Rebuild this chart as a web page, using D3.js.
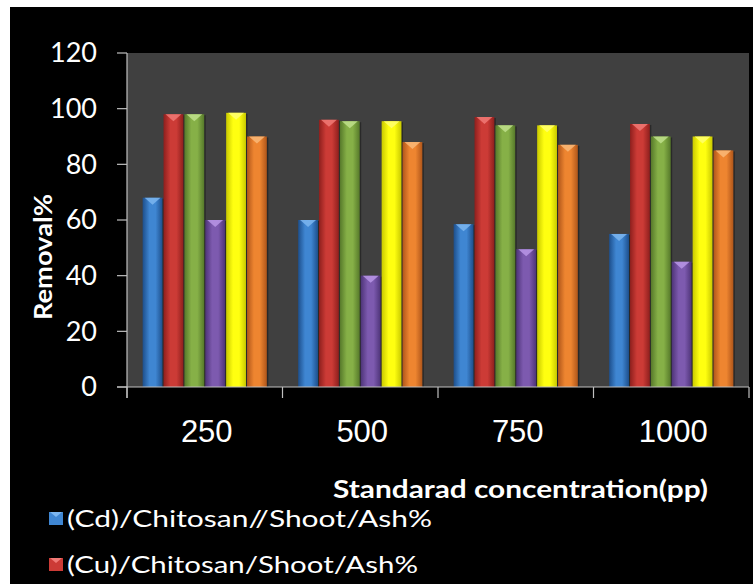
<!DOCTYPE html>
<html><head><meta charset="utf-8">
<script src="https://cdn.jsdelivr.net/npm/d3@7"></script>
<style>html,body{margin:0;padding:0;background:#fff;}svg{display:block;}</style>
</head><body>
<script>
const categories = ["250", "500", "750", "1000"];
const seriesNames = ["(Cd)/Chitosan//Shoot/Ash%", "(Cu)/Chitosan/Shoot/Ash%", "S3", "S4", "S5", "S6"];
const s1 = [68, 60, 58.5, 55];
const s2 = [98, 96, 97, 94.5];
const s3 = [98, 95.5, 94, 90];
const s4 = [60, 40, 49.5, 45];
const s5 = [98.5, 95.5, 94, 90];
const s6 = [90, 88, 87, 85];
const seriesValues = [s1, s2, s3, s4, s5, s6];
const yTicks = [0, 20, 40, 60, 80, 100, 120];
const legendShown = [0, 1];
const colors = [
  {dark:"#1d4f8c", mid:"#3f86d2", cap:"#7cb6f0"},
  {dark:"#8e1f1d", mid:"#cc3b36", cap:"#f07a76"},
  {dark:"#56792a", mid:"#86b047", cap:"#c0e08c"},
  {dark:"#4e3478", mid:"#7d5aaf", cap:"#b896e6"},
  {dark:"#c9c900", mid:"#ffff10", cap:"#ffff70"},
  {dark:"#b0561a", mid:"#ee8530", cap:"#f9b878"}
];

const W = 753, H = 584;
const svg = d3.select("body").append("svg").attr("width", W).attr("height", H);
svg.append("rect").attr("width", W).attr("height", H).attr("fill", "#fff");
svg.append("rect").attr("x", 10).attr("y", 7).attr("width", W - 10).attr("height", H - 7).attr("fill", "#000");

const plot = {left: 127, top: 53, right: 749, bottom: 387};
svg.append("rect").attr("x", plot.left).attr("y", plot.top)
  .attr("width", plot.right - plot.left).attr("height", plot.bottom - plot.top).attr("fill", "#404040");

const y = d3.scaleLinear().domain([0, 120]).range([plot.bottom, plot.top]);
const x0 = d3.scaleBand().domain(categories).range([plot.left, plot.right]).padding(0);
const x1 = d3.scaleBand().domain(d3.range(6)).range([0, x0.bandwidth()]).paddingInner(0.05).paddingOuter(0.75);

const defs = svg.append("defs");
colors.forEach((c, i) => {
  const g = defs.append("linearGradient").attr("id", "g" + i).attr("x1", 0).attr("x2", 1).attr("y1", 0).attr("y2", 0);
  g.append("stop").attr("offset", "0%").attr("stop-color", c.dark);
  g.append("stop").attr("offset", "35%").attr("stop-color", c.mid);
  g.append("stop").attr("offset", "65%").attr("stop-color", c.mid);
  g.append("stop").attr("offset", "100%").attr("stop-color", c.dark);
});

const groups = svg.append("g").selectAll("g").data(categories).join("g")
  .attr("transform", d => `translate(${x0(d)},0)`);
groups.each(function(cat, ci) {
  const g = d3.select(this);
  seriesValues.forEach((vals, si) => {
    const v = vals[ci];
    const bx = x1(si), bw = x1.bandwidth();
    const by = y(v);
    g.append("rect").attr("x", bx + 1.5).attr("y", by + 1).attr("width", bw).attr("height", plot.bottom - by)
      .attr("fill", "#000").attr("opacity", 0.35);
    g.append("rect").attr("x", bx).attr("y", by).attr("width", bw).attr("height", plot.bottom - by)
      .attr("fill", `url(#g${si})`);
    g.append("path")
      .attr("d", `M${bx + 2},${by}L${bx + bw - 2},${by}L${bx + bw / 2},${by + 7}Z`)
      .attr("fill", colors[si].cap).attr("opacity", 0.85);
  });
});

const axisColor = "#bfbfbf";
const ax = svg.append("g").attr("stroke", axisColor).attr("stroke-width", 1.2);
ax.append("line").attr("x1", plot.left).attr("x2", plot.left).attr("y1", plot.top).attr("y2", plot.bottom + 11);
ax.append("line").attr("x1", plot.left - 10).attr("x2", plot.right).attr("y1", plot.bottom).attr("y2", plot.bottom);
ax.selectAll(".yt").data(yTicks).join("line")
  .attr("x1", plot.left - 10).attr("x2", plot.left).attr("y1", d => y(d)).attr("y2", d => y(d));
const bounds = categories.map(c => x0(c)).concat([plot.right]);
ax.selectAll(".xt").data(bounds).join("line")
  .attr("x1", d => d).attr("x2", d => d).attr("y1", plot.bottom).attr("y2", plot.bottom + 11);

svg.append("g").selectAll("text").data(yTicks).join("text")
  .attr("x", 97).attr("y", d => y(d)).attr("dy", "0.35em").attr("text-anchor", "end")
  .attr("font-family", "Lato, 'Open Sans', sans-serif").attr("font-size", 27).attr("fill", "#fff")
  .text(d => d);

svg.append("g").selectAll("text").data(categories).join("text")
  .attr("x", d => x0(d) + x0.bandwidth() / 2 + 2).attr("y", 442).attr("text-anchor", "middle")
  .attr("font-family", "'Liberation Sans', Arial, sans-serif").attr("font-size", 31).attr("fill", "#fff")
  .text(d => d);

svg.append("text").attr("x", 333).attr("y", 498)
  .attr("font-family", "Lato, sans-serif").attr("font-weight", "bold").attr("font-size", 25).attr("fill", "#fff")
  .attr("textLength", 375).attr("lengthAdjust", "spacingAndGlyphs")
  .text("Standarad concentration(pp)");
svg.append("text").attr("transform", "translate(52,257) rotate(-90)").attr("text-anchor", "middle")
  .attr("font-family", "Lato, sans-serif").attr("font-weight", "bold").attr("font-size", 25).attr("fill", "#fff")
  .attr("textLength", 126).attr("lengthAdjust", "spacingAndGlyphs")
  .text("Removal%");

const legY = [527, 573];
const leg = svg.append("g").selectAll("g").data(legendShown).join("g");
leg.append("rect").attr("x", 49).attr("y", (d, i) => legY[i] - 15).attr("width", 14).attr("height", 13)
  .attr("fill", d => colors[d].mid);
leg.append("path").attr("d", (d, i) => `M50,${legY[i] - 15}L62,${legY[i] - 15}L56,${legY[i] - 10}Z`)
  .attr("fill", d => colors[d].cap);
leg.append("text").attr("x", 67).attr("y", (d, i) => legY[i])
  .attr("font-family", "Lato, sans-serif").attr("font-size", 24).attr("fill", "#fff")
  .attr("textLength", (d, i) => i === 0 ? 365 : 351).attr("lengthAdjust", "spacingAndGlyphs")
  .text(d => seriesNames[d]);
</script>
</body></html>
